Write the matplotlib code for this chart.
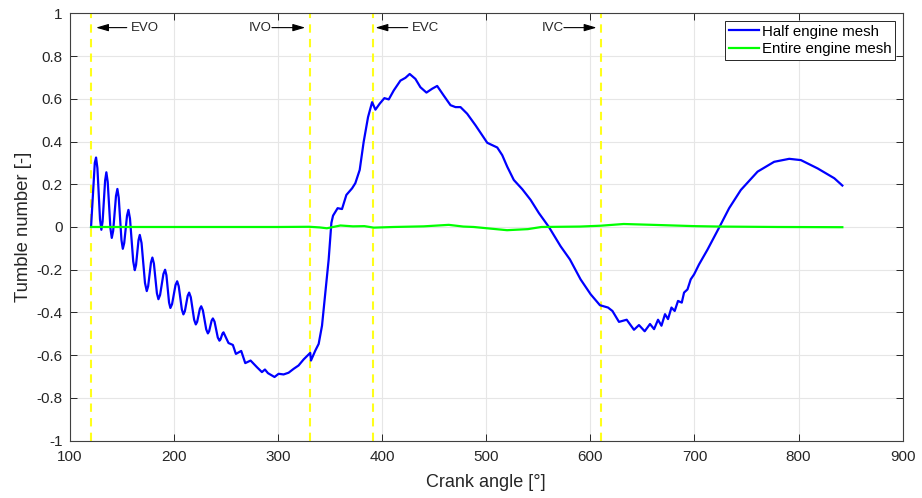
import matplotlib
matplotlib.use("Agg")
import matplotlib.pyplot as plt

# Tumble number, half engine mesh (crank angle [deg], tumble [-])
half_ca = [120.5, 124.1, 125.3, 126.6, 129.1, 130.4, 131.6, 134.0, 135.2, 136.5,
           139.1, 140.4, 141.75, 144.45, 145.8, 147.1, 149.7, 151.0, 152.35, 155.05,
           156.4, 157.9, 161.0, 162.5, 163.7, 166.1, 167.3, 169.0, 172.3, 174.0,
           175.35, 178.05, 179.4, 180.85, 183.75, 185.2, 186.8, 190.0, 191.6, 192.9,
           195.4, 196.7, 198.3, 201.6, 203.2, 204.7, 207.7, 209.2, 210.6, 213.3,
           214.7, 216.3, 219.5, 221.1, 222.4, 225.0, 226.3, 227.9, 231.1, 232.7,
           233.9, 236.3, 237.5, 239.1, 242.2, 243.8, 244.8, 246.7, 247.7, 252.5,
           256.7, 259.6, 264.7, 268.6, 273.7,
           279.8, 284.6, 287.5, 290.4, 296.7, 300.6, 305.4, 310.2, 315.0, 319.8,
           324.6, 331.0, 331.7, 335.9, 339.1, 342.3, 345.5, 348.7, 351.3, 352.9,
           357.3, 361.5, 365.7, 371.2, 374.3, 378.5, 382.3, 386.5, 390.4, 393.6,
           397.7, 402.2, 406.4, 411.2, 417.6, 422.4, 426.5, 432.0, 436.8, 442.6,
           448.1, 452.9, 459.2, 465.7, 470.5, 475.3, 481.7, 489.7, 496.2, 501.0,
           505.8, 510.6, 515.4, 520.2, 526.5, 534.6, 542.6, 550.6, 560.2, 571.4,
           580.4, 590.6, 600.3, 609.2, 617.0, 621.2, 627.5, 634.9, 641.9, 646.7,
           652.2, 657.3, 661.2, 665.0, 668.3, 671.7, 674.6, 677.9, 681.0, 684.2,
           687.8, 690.0, 693.3, 696.4, 699.6, 704.4, 712.5, 724.3, 733.3, 744.5,
           760.6, 776.5, 791.0, 802.2, 818.3, 834.3, 842.0]
half_tn = [0.000, 0.300, 0.325, 0.276, 0.036, -0.013, 0.026, 0.217, 0.256, 0.211,
           -0.006, -0.051, -0.018, 0.145, 0.178, 0.137, -0.061, -0.102, -0.075, 0.053,
           0.080, 0.039, -0.161, -0.202, -0.178, -0.061, -0.037, -0.075, -0.262, -0.300,
           -0.277, -0.166, -0.143, -0.171, -0.310, -0.338, -0.318, -0.220, -0.200, -0.226,
           -0.353, -0.379, -0.361, -0.272, -0.254, -0.277, -0.386, -0.409, -0.394, -0.322,
           -0.307, -0.329, -0.434, -0.456, -0.444, -0.383, -0.371, -0.390, -0.479, -0.498,
           -0.488, -0.438, -0.428, -0.443, -0.517, -0.532, -0.526, -0.499, -0.493, -0.543,
           -0.552, -0.594, -0.580, -0.637, -0.625,
           -0.656, -0.679, -0.667, -0.684, -0.702, -0.687, -0.690, -0.682, -0.664, -0.648,
           -0.620, -0.589, -0.625, -0.578, -0.547, -0.462, -0.307, -0.152, 0.019, 0.053,
           0.088, 0.084, 0.150, 0.181, 0.205, 0.267, 0.398, 0.514, 0.584, 0.549,
           0.577, 0.603, 0.597, 0.639, 0.685, 0.698, 0.716, 0.693, 0.654, 0.629,
           0.647, 0.660, 0.615, 0.570, 0.561, 0.561, 0.530, 0.476, 0.429, 0.394,
           0.383, 0.372, 0.336, 0.282, 0.220, 0.177, 0.127, 0.065, 0.000, -0.090,
           -0.152, -0.245, -0.315, -0.366, -0.377, -0.393, -0.444, -0.434, -0.481, -0.459,
           -0.488, -0.454, -0.478, -0.434, -0.462, -0.408, -0.431, -0.377, -0.393, -0.346,
           -0.354, -0.307, -0.292, -0.245, -0.222, -0.175, -0.106, 0.003, 0.088, 0.173,
           0.259, 0.305, 0.319, 0.313, 0.274, 0.228, 0.194]

# Tumble number, entire engine mesh
full_ca = [120.5, 200.0, 300.0, 330.0, 340.0, 347.0, 355.0, 360.0, 372.0, 383.0,
           392.0, 411.0, 440.0, 464.0, 478.0, 488.0, 505.0, 520.0, 540.0, 553.0,
           590.0, 610.0, 632.0, 660.0, 700.0, 724.0, 780.0, 842.0]
full_tn = [0.000, 0.000, 0.000, 0.001, -0.002, -0.006, 0.002, 0.007, 0.003, 0.004,
           -0.003, 0.000, 0.003, 0.010, 0.002, 0.000, -0.008, -0.015, -0.010, 0.000,
           0.002, 0.006, 0.014, 0.010, 0.004, 0.002, 0.000, -0.001]

# Valve timing events (crank angle [deg])
event_names = ["EVO", "IVO", "EVC", "IVC"]
event_ca = [120.5, 331.0, 391.3, 610.5]

x_ticks = [100, 200, 300, 400, 500, 600, 700, 800, 900]
y_ticks = [-1, -0.8, -0.6, -0.4, -0.2, 0, 0.2, 0.4, 0.6, 0.8, 1]
y_tick_labels = ["-1", "-0.8", "-0.6", "-0.4", "-0.2", "0", "0.2", "0.4", "0.6", "0.8", "1"]

plt.rcParams["font.family"] = ["Liberation Sans", "DejaVu Sans"]

fig = plt.figure(figsize=(9.22, 4.98), dpi=100)
ax = fig.add_axes([0.0756, 0.1151, 0.9035, 0.8582])

dark = "#262626"
for ca in event_ca:
    ax.axvline(ca, color="#ffff1a", lw=1.5, ls=(0, (4, 3)), zorder=2)

ax.plot(half_ca, half_tn, color=(0, 0, 1), lw=1.6, label="Half engine mesh", zorder=3)
ax.plot(full_ca, full_tn, color=(0, 1, 0), lw=1.6, label="Entire engine mesh", zorder=3)

# Event annotations: arrow pointing at the event line, label beside it
y_ann = 0.933
arrow_kw = dict(arrowstyle="-|>,head_length=0.75,head_width=0.22", color="black",
                lw=0.8, shrinkA=0, shrinkB=0)
# EVO: arrow points left toward the line
ax.annotate("", xy=(event_ca[0] + 4.8, y_ann), xytext=(event_ca[0] + 34.3, y_ann),
            arrowprops=arrow_kw)
ax.text(event_ca[0] + 38.5, y_ann, event_names[0], ha="left", va="center",
        fontsize=9.5, color=dark)
# IVO: label then arrow pointing right toward the line
ax.annotate("", xy=(event_ca[1] - 4.8, y_ann), xytext=(event_ca[1] - 36.8, y_ann),
            arrowprops=arrow_kw)
ax.text(event_ca[1] - 36.8, y_ann, event_names[1], ha="right", va="center",
        fontsize=9.5, color=dark)
# EVC
ax.annotate("", xy=(event_ca[2] + 2.3, y_ann), xytext=(event_ca[2] + 33.3, y_ann),
            arrowprops=arrow_kw)
ax.text(event_ca[2] + 37.5, y_ann, event_names[2], ha="left", va="center",
        fontsize=9.5, color=dark)
# IVC
ax.annotate("", xy=(event_ca[3] - 4.5, y_ann), xytext=(event_ca[3] - 35.9, y_ann),
            arrowprops=arrow_kw)
ax.text(event_ca[3] - 35.9, y_ann, event_names[3], ha="right", va="center",
        fontsize=9.5, color=dark)

ax.set_xlim(100, 900)
ax.set_ylim(-1, 1)
ax.set_xticks(x_ticks)
ax.set_yticks(y_ticks)
ax.set_yticklabels(y_tick_labels)
ax.grid(True, color="#e6e6e6", lw=0.8, zorder=0)
ax.set_axisbelow(True)
ax.tick_params(direction="in", length=5, width=0.7, colors=dark, labelsize=11,
               top=True, right=True)
ax.tick_params(axis="x", pad=7)
ax.tick_params(axis="y", pad=5)
for s in ax.spines.values():
    s.set_color("#404040")
    s.set_linewidth(0.8)

ax.set_xlabel("Crank angle [°]", fontsize=13, color=dark, labelpad=7)
ax.set_ylabel("Tumble number [-]", fontsize=13.3, color=dark, labelpad=3)

leg = ax.legend(loc="upper right", fontsize=10.8, handlelength=2.0, handletextpad=0.2,
                borderpad=0.25, labelspacing=0.25, fancybox=False, framealpha=1,
                borderaxespad=0.5)
leg.get_frame().set_edgecolor(dark)
leg.get_frame().set_linewidth(0.7)

fig.savefig("out.png", dpi=100)
